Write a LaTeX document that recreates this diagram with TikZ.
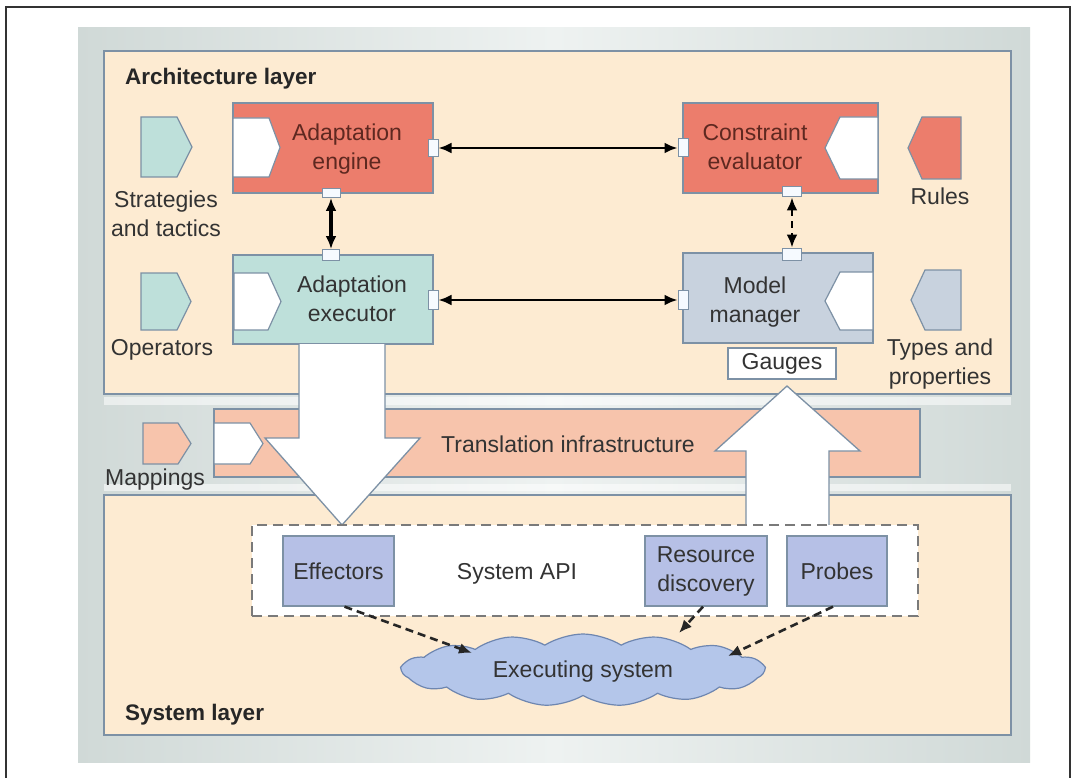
\documentclass[tikz,border=0pt]{standalone}
\usepackage{fontspec}
\setmainfont{Liberation Sans}
\usetikzlibrary{arrows.meta,shapes.symbols}

\definecolor{framestroke}{HTML}{333333}
\definecolor{panelside}{HTML}{D0D9D7}
\definecolor{panelmid}{HTML}{EEF2F1}
\definecolor{cream}{HTML}{FDEBD2}
\definecolor{edgeblue}{HTML}{7D91A5}
\definecolor{salmon}{HTML}{EC7D6C}
\definecolor{teal}{HTML}{BEE0DA}
\definecolor{slateblue}{HTML}{C8D2DE}
\definecolor{peach}{HTML}{F7C4AC}
\definecolor{lavender}{HTML}{B6C0E6}
\definecolor{cloudblue}{HTML}{B4C6EA}
\definecolor{cloudedge}{HTML}{6E86B0}
\definecolor{labeltext}{HTML}{333333}
\definecolor{redtext}{HTML}{5E2820}
\definecolor{portwhite}{HTML}{F6FAFF}
\definecolor{apiedge}{HTML}{7A7A7A}

% tag shapes: right-pointing and left-pointing pentagons
\newcommand\tagright[6]{\draw[tagline,#6] (#1,#2) -- (#3-#5,#2) -- (#3,{(#2+#4)/2}) -- (#3-#5,#4) -- (#1,#4) -- cycle;}
\newcommand\tagleft[6]{\draw[tagline,#6] (#3,#2) -- (#1+#5,#2) -- (#1,{(#2+#4)/2}) -- (#1+#5,#4) -- (#3,#4) -- cycle;}

\tikzset{
  lbl/.style={font=\fontsize{23}{29}\selectfont, text=labeltext, inner sep=0pt, align=center},
  layertitle/.style={font=\fontsize{22.5}{27}\selectfont\bfseries, text=black!85, inner sep=0pt},
  layerbox/.style={draw=edgeblue, fill=cream, line width=1.4pt, inner sep=0pt},
  comp/.style={draw=edgeblue, line width=1.3pt, inner sep=0pt},
  port/.style={draw=edgeblue, fill=portwhite, line width=1pt, inner sep=0pt},
  tagline/.style={draw=edgeblue, line width=1.2pt},
  link/.style={line width=2.4pt, draw=black, arrows={Latex[length=13pt,width=11pt]-Latex[length=13pt,width=11pt]}},
  bigarrow/.style={draw=edgeblue, fill=white, line width=1.3pt, line join=miter},
  probe/.style={line width=2.6pt, draw=black!85, dash pattern=on 8pt off 5pt, arrows={-Latex[length=13pt,width=11pt]}},
}

\begin{document}
\begin{tikzpicture}[x=1pt,y=-1pt]
\useasboundingbox (0,0) rectangle (1076,778);
\fill[white] (0,0) rectangle (1076,778);
\draw[framestroke, line width=1.5pt] (6,778) -- (6,7) -- (1070,7) -- (1070,778);

% backdrop panel
\shade[left color=panelside, right color=panelside, middle color=panelmid] (78,28) rectangle (1030,762);
\fill[white, opacity=0.55] (104,397) rectangle (1011,405);
\fill[white, opacity=0.55] (104,484) rectangle (1011,491);

% layers
\node[layerbox, minimum width=907, minimum height=343] (arch) at (557.5,222.5) {};
\node[layerbox, minimum width=907, minimum height=240] (sys) at (557.5,615) {};
\node[layertitle, anchor=base west] (archtitle) at (125,85) {Architecture layer};
\node[layertitle, anchor=base west] (systitle) at (125,720) {System layer};

% translation band
\node[comp, fill=peach, minimum width=706, minimum height=68] (trans) at (567,443) {};
\tagright{214}{423}{263}{464}{13}{fill=white}
\tagright{143}{423}{191}{464}{13}{fill=peach}
\node[lbl, anchor=base west] (maplbl) at (105,485) {Mappings};

% side tags of the architecture layer
\tagright{141}{117}{192}{177}{15}{fill=teal}
\tagright{141}{273}{191}{330}{14}{fill=teal}
\tagleft{908}{117}{961}{179}{14}{fill=salmon}
\tagleft{911}{270}{961}{330}{14}{fill=slateblue}
\node[lbl] (stratlbl) at (166,214) {Strategies\\and tactics};
\node[lbl, anchor=base] (oplbl) at (162,355) {Operators};
\node[lbl, anchor=base] (ruleslbl) at (940,205) {Rules};
\node[lbl] (typeslbl) at (940,364) {Types and\\properties};

% components
\node[comp, fill=salmon, minimum width=200, minimum height=90] (eng) at (333,148) {};
\node[comp, fill=salmon, minimum width=195, minimum height=90] (eval) at (780.5,148) {};
\node[comp, fill=teal, minimum width=200, minimum height=89] (exec) at (333,299.5) {};
\node[comp, fill=slateblue, minimum width=190, minimum height=90] (model) at (778,298) {};

\tagright{233}{118}{280}{177}{11}{fill=white}
\tagleft{825}{117}{878}{179}{15}{fill=white}
\tagright{234}{273}{281}{330}{13}{fill=white}
\tagleft{825}{272}{873}{330}{15}{fill=white}

\node[lbl, text=redtext] (englbl) at (347,149) {Adaptation\\engine};
\node[lbl, text=redtext] (evallbl) at (755,147) {Constraint\\evaluator};
\node[lbl] (execlbl) at (352,299) {Adaptation\\executor};
\node[lbl] (modellbl) at (755,302) {Model\\manager};

\node[comp, fill=white, minimum width=108, minimum height=31, font=\fontsize{23}{29}\selectfont, text=labeltext] (gauges) at (782,363.5) {Gauges};

% ports
\node[port, minimum width=10, minimum height=17] (engR) at (433,148) {};
\node[port, minimum width=18, minimum height=9] (engB) at (331,193) {};
\node[port, minimum width=10, minimum height=18] (evalL) at (683,148) {};
\node[port, minimum width=19, minimum height=10] (evalB) at (792,192) {};
\node[port, minimum width=17, minimum height=11] (execT) at (331,255) {};
\node[port, minimum width=10, minimum height=19] (execR) at (433,300) {};
\node[port, minimum width=19, minimum height=12] (modelT) at (792,254) {};
\node[port, minimum width=10, minimum height=19] (modelL) at (683,300) {};

% connectors between components
\draw[link] (engR.east) -- (evalL.west);
\draw[link] (execR.east) -- (modelL.west);
\draw[link, line width=4pt] (engB.south) -- (execT.north);
\draw[link, dash pattern=on 7pt off 5pt] (evalB.south) -- (modelT.north);

% broad flow arrows
\draw[bigarrow] (299,344) -- (299,438) -- (265,438) -- (342,525) -- (420,438) -- (385,438) -- (385,344);
\draw[bigarrow] (746,525) -- (746,451) -- (715,451) -- (787,386) -- (860,451) -- (829,451) -- (829,525);
\node[lbl, anchor=base] (translbl) at (568,452) {Translation infrastructure};

% system API
\node[draw=apiedge, fill=white, line width=1.3pt, dash pattern=on 10pt off 6pt, inner sep=0pt, minimum width=666, minimum height=91] (api) at (585,570.5) {};
\node[lbl, anchor=base] (apilbl) at (517,579) {System API};
\node[comp, fill=lavender, minimum width=111, minimum height=70, font=\fontsize{23}{29}\selectfont, text=labeltext] (eff) at (338.5,571) {Effectors};
\node[comp, fill=lavender, minimum width=122, minimum height=70, font=\fontsize{23}{29}\selectfont, text=labeltext, align=center] (res) at (706,571) {Resource\\discovery};
\node[comp, fill=lavender, minimum width=100, minimum height=70, font=\fontsize{23}{29}\selectfont, text=labeltext] (prb) at (837,571) {Probes};

% executing system
\node[cloud, cloud puffs=15, cloud puff arc=65, aspect=4.8, draw=cloudedge, fill=cloudblue, line width=1.2pt, inner sep=0pt, minimum width=362, minimum height=72] (run) at (583,670) {};
\node[lbl, anchor=base] (runlbl) at (583,677) {Executing system};

\coordinate (hitA) at (472,653);
\coordinate (hitB) at (679,633);
\coordinate (hitC) at (728,656);
\draw[probe] ([xshift=6pt]eff.south) -- (hitA);
\draw[probe] ([xshift=-3pt]res.south) -- (hitB);
\draw[probe] ([xshift=-4pt]prb.south) -- (hitC);
\end{tikzpicture}
\end{document}
